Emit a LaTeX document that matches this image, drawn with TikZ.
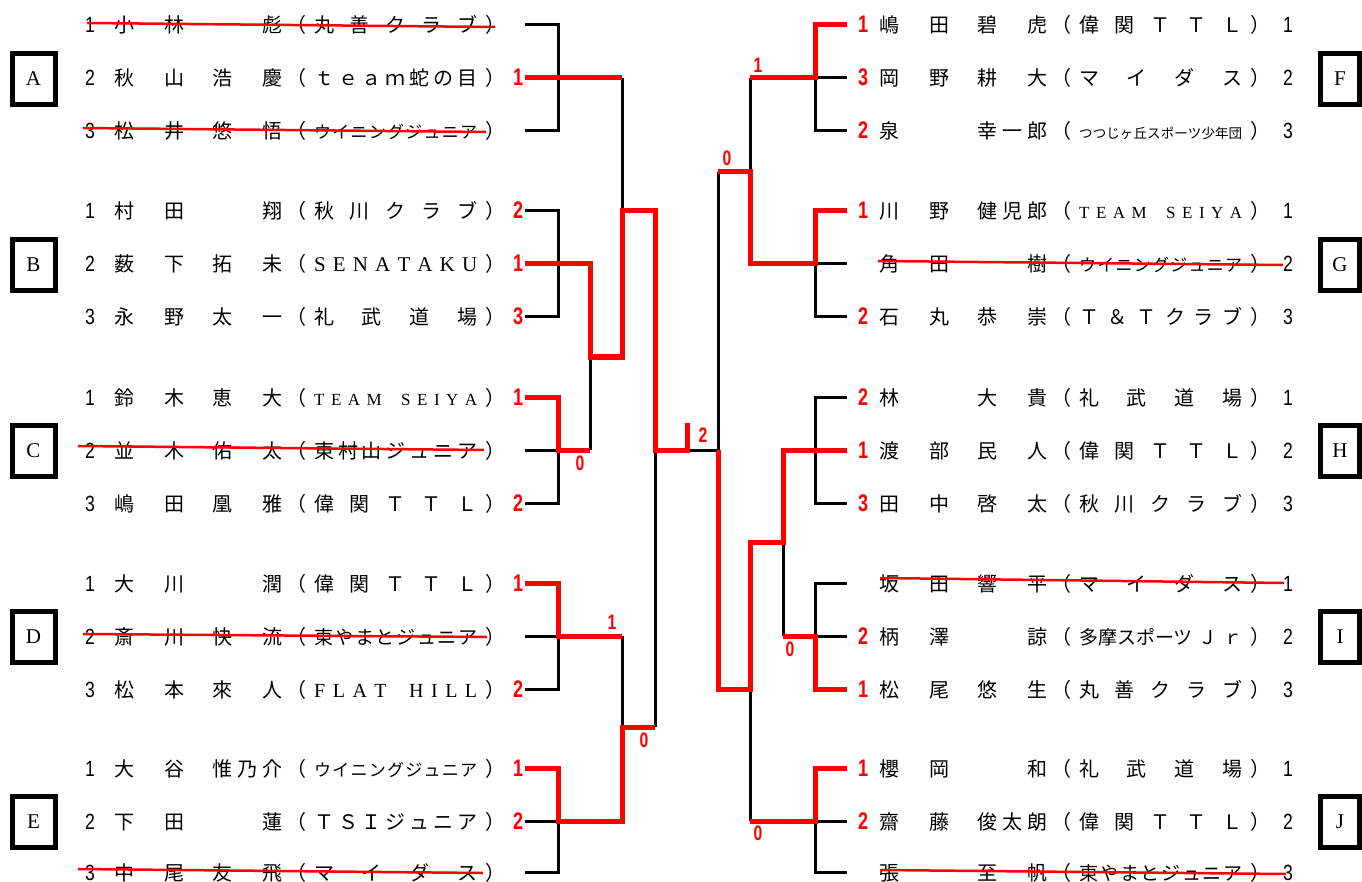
\documentclass[tikz,border=0pt]{standalone}
\usepackage{fontspec}
\setmainfont{Noto Sans CJK JP}
\newfontfamily\lat{Liberation Serif}
\newfontfamily\numf[FakeStretch=0.8]{Liberation Sans}
\newfontfamily\scf[FakeStretch=0.75]{Liberation Sans Bold}
\tikzstyle{blk}=[draw=black,line width=3pt]
\tikzstyle{wn}=[draw=red,line width=5pt]
\tikzstyle{strk}=[draw=red,line width=2.5pt]
\tikzstyle{grp}=[draw=black,line width=5pt,minimum width=43pt,minimum height=51pt,inner sep=0pt,font=\lat\fontsize{21}{21}\selectfont]
\tikzstyle{seed}=[inner sep=0pt,anchor=base,font=\numf\fontsize{22}{22}\selectfont]
\tikzstyle{sc}=[inner sep=0pt,anchor=base,text=red,font=\scf\fontsize{24}{24}\selectfont]
\tikzstyle{nm}=[inner sep=0pt,anchor=base west,font=\fontsize{20}{20}\selectfont]
\tikzstyle{lbl}=[inner sep=0pt,text=red,font=\scf\fontsize{21}{21}\selectfont]
% spread the characters of a word
\def\sprd#1{\sprdB#1\relax}
\def\sprdB#1{#1\sprdA}
\def\sprdA#1{\ifx\relax#1\else\hfill #1\expandafter\sprdA\fi}
\newcommand{\jname}[2]{\makebox[168pt][s]{\makebox[70pt][s]{\sprd{#1}\hfil}\hfill\makebox[70pt][s]{\hfil\sprd{#2}}}}
\newcommand{\clubtxt}[1]{\makebox[219pt][s]{（\hskip8pt\makebox[163pt][s]{#1}\hskip8pt）}}
\newcommand{\seiya}{{\lat\fontsize{17}{17}\selectfont T\hfill E\hfill A\hfill M\hfill\hfill\hfill S\hfill E\hfill I\hfill Y\hfill A}}
\newcommand{\wing}{{\fontsize{17}{17}\selectfont\sprd{ウイニングジュニア}}}
\newcommand{\higa}{{\fontsize{19}{19}\selectfont\sprd{東やまとジュニア}}}
% id, y, seed, surname, given name, club, score
\newcommand{\lrow}[7]{%
  \node[seed] (s#1) at (90,#2+8) {#3};
  \node[nm] (n#1) at (114,#2+8) {\jname{#4}{#5}};
  \node[nm] (c#1) at (286,#2+8) {\clubtxt{#6}};
  \node[sc] (r#1) at (518,#2+8) {#7};
  \coordinate (p#1) at (525,#2);}
% id, y, score, surname, given name, club, number
\newcommand{\rrow}[7]{%
  \node[sc] (r#1) at (863,#2+8) {#3};
  \node[nm] (n#1) at (879,#2+8) {\jname{#4}{#5}};
  \node[nm] (c#1) at (1051,#2+8) {\clubtxt{#6}};
  \node[seed] (s#1) at (1288,#2+8) {#7};
  \coordinate (p#1) at (847,#2);}

\begin{document}
\begin{tikzpicture}[x=1pt,y=-1pt]
\useasboundingbox (0,0) rectangle (1362,882);
% groups
\node[grp] (ga) at (33.5,79) {A};
\node[grp] (gb) at (33.5,265) {B};
\node[grp] (gc) at (33.5,451) {C};
\node[grp] (gd) at (33.5,637) {D};
\node[grp] (ge) at (33.5,822) {E};
\node[grp,minimum width=39pt] (gf) at (1340,79) {F};
\node[grp,minimum width=39pt] (gg) at (1340,265) {G};
\node[grp,minimum width=39pt] (gh) at (1340,451) {H};
\node[grp,minimum width=39pt] (gi) at (1340,637) {I};
\node[grp,minimum width=39pt] (gj) at (1340,822) {J};
% left players
\lrow{a1}{25}{1}{小林}{彪}{\sprd{丸善クラブ}}{}
\lrow{a2}{78}{2}{秋山}{浩慶}{\sprd{ｔｅａｍ蛇の目}}{1}
\lrow{a3}{131}{3}{松井}{悠悟}{\wing}{}
\lrow{b1}{211}{1}{村田}{翔}{\sprd{秋川クラブ}}{2}
\lrow{b2}{264}{2}{薮下}{拓未}{{\lat\fontsize{21}{21}\selectfont\sprd{SENATAKU}}}{1}
\lrow{b3}{317}{3}{永野}{太一}{\sprd{礼武道場}}{3}
\lrow{c1}{397}{1}{鈴木}{恵大}{\seiya}{1}
\lrow{c2}{450}{2}{並木}{佑太}{\sprd{東村山ジュニア}}{}
\lrow{c3}{503}{3}{嶋田}{凰雅}{\sprd{偉関ＴＴＬ}}{2}
\lrow{d1}{583}{1}{大川}{潤}{\sprd{偉関ＴＴＬ}}{1}
\lrow{d2}{636}{2}{斎川}{快流}{\higa}{}
\lrow{d3}{689}{3}{松本}{來人}{{\lat\fontsize{20}{20}\selectfont F\hfill L\hfill A\hfill T\hfill\hfill\hfill H\hfill I\hfill L\hfill L}}{2}
\lrow{e1}{768}{1}{大谷}{惟乃介}{\wing}{1}
\lrow{e2}{821}{2}{下田}{蓮}{\sprd{ＴＳＩジュニア}}{2}
\lrow{e3}{872}{3}{中尾}{友飛}{\sprd{マイダス}}{}
% right players
\rrow{f1}{25}{1}{嶋田}{碧虎}{\sprd{偉関ＴＴＬ}}{1}
\rrow{f2}{78}{3}{岡野}{耕大}{\sprd{マイダス}}{2}
\rrow{f3}{131}{2}{泉}{幸一郎}{{\fontsize{13.5}{13.5}\selectfont\sprd{つつじヶ丘スポーツ少年団}}}{3}
\rrow{g1}{211}{1}{川野}{健児郎}{\seiya}{1}
\rrow{g2}{264}{}{角田}{樹}{\wing}{2}
\rrow{g3}{317}{2}{石丸}{恭崇}{\sprd{Ｔ＆Ｔクラブ}}{3}
\rrow{h1}{397}{2}{林}{大貴}{\sprd{礼武道場}}{1}
\rrow{h2}{450}{1}{渡部}{民人}{\sprd{偉関ＴＴＬ}}{2}
\rrow{h3}{503}{3}{田中}{啓太}{\sprd{秋川クラブ}}{3}
\rrow{i1}{583}{}{坂田}{響平}{\sprd{マイダス}}{1}
\rrow{i2}{636}{2}{柄澤}{諒}{{\fontsize{19}{19}\selectfont 多摩スポーツ\hfill Ｊ\hfill ｒ}}{2}
\rrow{i3}{689}{1}{松尾}{悠生}{\sprd{丸善クラブ}}{3}
\rrow{j1}{768}{1}{櫻岡}{和}{\sprd{礼武道場}}{1}
\rrow{j2}{821}{2}{齋藤}{俊太朗}{\sprd{偉関ＴＴＬ}}{2}
\rrow{j3}{872}{}{張}{至帆}{\higa}{3}
% crossed out
\draw[strk] (87,23) -- (495,27);
\draw[strk] (83,128) -- (486,132);
\draw[strk] (78,446) -- (484,450);
\draw[strk] (83,634) -- (487,637);
\draw[strk] (78,869) -- (483,873);
\draw[strk] (878,261) -- (1283,265);
\draw[strk] (880,578) -- (1284,583);
\draw[strk] (880,870) -- (1286,874);
% junctions
\coordinate (ja) at (622,78);
\coordinate (jab) at (622,211);
\coordinate (jc) at (590,450);
\coordinate (jbc) at (590,357);
\coordinate (jd) at (622,636);
\coordinate (je) at (622,821);
\coordinate (jde) at (622,727);
\coordinate (jde2) at (655,727);
\coordinate (jl) at (655,450);
\coordinate (jt) at (687,450);
\coordinate (jr) at (718,450);
\coordinate (jf) at (750,78);
\coordinate (jfg) at (750,172);
\coordinate (jfg2) at (718,172);
\coordinate (jhi) at (783,542);
\coordinate (ji) at (783,636);
\coordinate (jhij) at (750,689);
\coordinate (jj) at (750,821);
% left bracket
\draw[blk] (pa1) -- ++(33,0) |- (pa3);
\draw[blk] (pb1) -- ++(33,0) |- (pb3);
\draw[blk] (pc2) -- ++(33,0) |- (pc3);
\draw[blk] (pd2) -- ++(33,0) |- (pd3);
\draw[blk] (pe2) -- ++(33,0) |- (pe3);
\draw[blk] (ja) -- (jab);
\draw[blk] (jc) -- (jbc);
\draw[blk] (jd) -- (jde);
\draw[blk] (jde2) -- (jl);
\draw[blk] (jt) -- (jr);
% right bracket
\draw[blk] (pf2) -- ++(-32,0) |- (pf3);
\draw[blk] (pg2) -- ++(-32,0) |- (pg3);
\draw[blk] (ph1) -- ++(-32,0) |- (ph3);
\draw[blk] (pi1) -- ++(-32,0) |- (pi2);
\draw[blk] (pj2) -- ++(-32,0) |- (pj3);
\draw[blk] (jf) -- (jfg);
\draw[blk] (jfg2) -- (jr);
\draw[blk] (ji) -- (jhi);
\draw[blk] (jj) -- (jhij);
% winners
\draw[wn] (pa2) -- (ja);
\draw[wn] (pb2) -| (jbc) -| (jab) -| (jl) -- (jt) -- ++(0,-27);
\draw[wn] (pc1) -- ++(33,0) |- (jc);
\draw[wn] (pd1) -- ++(33,0) |- (jd);
\draw[wn] (pe1) -- ++(33,0) |- (je) |- (jde2);
\draw[wn] (pf1) -- ++(-32,0) |- (jf);
\draw[wn] (pg1) -- ++(-32,0) |- (750,264) |- (jfg2);
\draw[wn] (ph2) -| (jhi) -| (jhij) -| (jr);
\draw[wn] (pi3) -- ++(-32,0) |- (ji);
\draw[wn] (pj1) -- ++(-32,0) |- (jj);
% match scores
\node[lbl] (xbc) at (580,463) {0};
\node[lbl] (xfin) at (703,435) {2};
\node[lbl] (xd) at (612,622) {1};
\node[lbl] (xde) at (644,740) {0};
\node[lbl] (xf) at (758,65) {1};
\node[lbl] (xfg) at (727,158) {0};
\node[lbl] (xi) at (790,649) {0};
\node[lbl] (xj) at (758,833) {0};
\end{tikzpicture}
\end{document}
